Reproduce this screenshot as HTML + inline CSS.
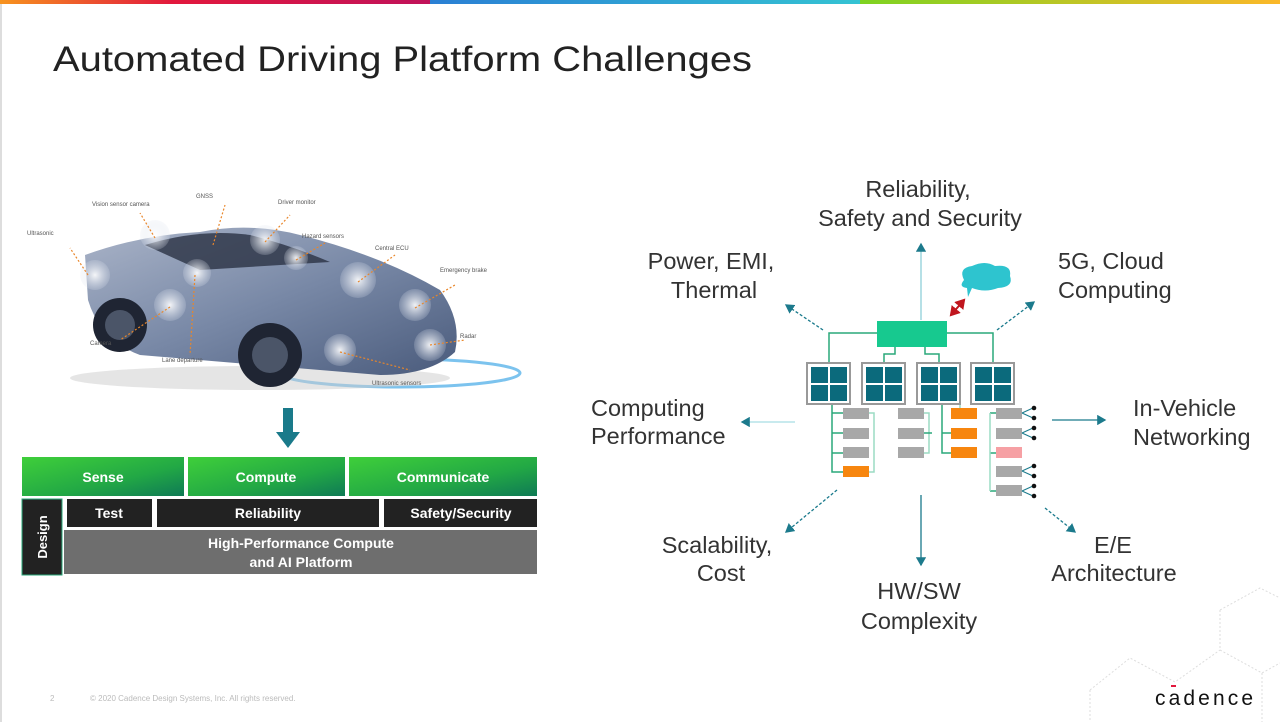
<!DOCTYPE html>
<html><head><meta charset="utf-8"><style>
html,body{margin:0;padding:0;background:#fff;}
svg{display:block;font-family:"Liberation Sans",Arial,sans-serif;}
</style></head><body>
<svg width="1280" height="722" viewBox="0 0 1280 722" xmlns="http://www.w3.org/2000/svg">
<defs>
<linearGradient id="g1" x1="0" x2="1"><stop offset="0" stop-color="#f7931e"/><stop offset="0.4" stop-color="#e2183d"/><stop offset="1" stop-color="#c0125a"/></linearGradient>
<linearGradient id="g2" x1="0" x2="1"><stop offset="0" stop-color="#2a7fd4"/><stop offset="1" stop-color="#34c3d3"/></linearGradient>
<linearGradient id="g3" x1="0" x2="1"><stop offset="0" stop-color="#7ed321"/><stop offset="1" stop-color="#fbb829"/></linearGradient>
<linearGradient id="gg" x1="0" y1="0" x2="1" y2="1"><stop offset="0" stop-color="#3fcf3a"/><stop offset="0.6" stop-color="#22a845"/><stop offset="1" stop-color="#0f7a55"/></linearGradient>
<linearGradient id="car" x1="0" y1="0" x2="1" y2="1"><stop offset="0" stop-color="#aab4c8"/><stop offset="0.5" stop-color="#7888a6"/><stop offset="1" stop-color="#4a5b7c"/></linearGradient>
<radialGradient id="spot"><stop offset="0" stop-color="#fff" stop-opacity="0.9"/><stop offset="1" stop-color="#dde3ee" stop-opacity="0.2"/></radialGradient>
<marker id="ah" markerWidth="8" markerHeight="8" refX="6" refY="4" orient="auto"><path d="M0,0 L7,4 L0,8z" fill="#1c7a8c"/></marker>
<marker id="ar" markerWidth="6" markerHeight="6" refX="4" refY="3" orient="auto-start-reverse"><path d="M0,0 L5,3 L0,6z" fill="#c0161e"/></marker>
</defs>
<rect x="0" y="0" width="430" height="4" fill="url(#g1)"/>
<rect x="430" y="0" width="430" height="4" fill="url(#g2)"/>
<rect x="860" y="0" width="420" height="4" fill="url(#g3)"/>
<rect x="0" y="4" width="2" height="718" fill="#ddd"/>
<text x="53" y="71" font-size="35" fill="#222" textLength="699" lengthAdjust="spacingAndGlyphs">Automated Driving Platform Challenges</text>

<!-- car -->
<ellipse cx="400" cy="373" rx="120" ry="14" fill="none" stroke="#7cc3ee" stroke-width="3"/>
<ellipse cx="260" cy="378" rx="190" ry="12" fill="#ccc" opacity="0.5"/>
<path d="M85,255 Q140,235 200,232 Q250,222 300,235 Q380,255 440,290 Q462,320 455,352 Q430,375 380,375 L140,355 Q100,340 88,300 Z" fill="url(#car)"/>
<path d="M145,245 Q200,228 250,235 Q290,245 330,262 L200,270 Z" fill="#2b3244" opacity="0.8"/>
<circle cx="120" cy="325" r="27" fill="#1f2533"/><circle cx="120" cy="325" r="15" fill="#4b5568"/>
<circle cx="270" cy="355" r="32" fill="#1f2533"/><circle cx="270" cy="355" r="18" fill="#4b5568"/>
<g fill="url(#spot)"><circle cx="155" cy="235" r="15"/><circle cx="265" cy="240" r="15"/><circle cx="95" cy="275" r="15"/><circle cx="170" cy="305" r="16"/><circle cx="358" cy="280" r="18"/><circle cx="415" cy="305" r="16"/><circle cx="340" cy="350" r="16"/><circle cx="430" cy="345" r="16"/><circle cx="197" cy="273" r="14"/><circle cx="296" cy="258" r="12"/></g>
<g stroke="#e9862a" stroke-width="1.2" stroke-dasharray="2,2" fill="none">
<path d="M155,238 L140,213"/><path d="M213,245 L225,205"/><path d="M265,242 L290,215"/><path d="M296,260 L325,243"/><path d="M358,282 L395,255"/><path d="M415,308 L455,285"/><path d="M430,345 L465,340"/><path d="M340,352 L410,370"/><path d="M170,307 L120,340"/><path d="M195,275 L190,355"/><path d="M88,275 L70,248"/>
</g>
<g font-size="6" fill="#555"><text x="92" y="206">Vision sensor camera</text><text x="196" y="198">GNSS</text><text x="278" y="204">Driver monitor</text><text x="302" y="238">Hazard sensors</text><text x="375" y="250">Central ECU</text><text x="440" y="272">Emergency brake</text><text x="460" y="338">Radar</text><text x="372" y="385">Ultrasonic sensors</text><text x="90" y="345">Camera</text><text x="162" y="362">Lane departure</text><text x="27" y="235">Ultrasonic</text></g>

<!-- arrow down -->
<rect x="283" y="408" width="10" height="25" fill="#1a7a8a"/><path d="M276,432 L300,432 L288,448z" fill="#1a7a8a"/>

<!-- platform block -->
<g font-size="14" font-weight="bold" fill="#fff" text-anchor="middle">
<rect x="22" y="457" width="162" height="39" fill="url(#gg)"/><text x="103" y="482">Sense</text>
<rect x="188" y="457" width="157" height="39" fill="url(#gg)"/><text x="266" y="482">Compute</text>
<rect x="349" y="457" width="188" height="39" fill="url(#gg)"/><text x="443" y="482">Communicate</text>
<rect x="22" y="499" width="40" height="76" fill="#222" stroke="#2aa87a"/>
<text x="0" y="0" transform="translate(47,537) rotate(-90)" font-size="13">Design</text>
<rect x="67" y="499" width="85" height="28" fill="#222"/><text x="109" y="518">Test</text>
<rect x="157" y="499" width="222" height="28" fill="#222"/><text x="268" y="518">Reliability</text>
<rect x="384" y="499" width="153" height="28" fill="#222"/><text x="461" y="518">Safety/Security</text>
<rect x="64" y="530" width="473" height="44" fill="#6e6e6e"/>
<text x="301" y="548">High-Performance Compute</text><text x="301" y="567">and AI Platform</text>
</g>

<!-- right diagram -->
<g stroke="#1a7a8c" stroke-width="1.3" fill="none" marker-end="url(#ah)">
<path d="M921,320 L921,244" stroke="#8fd0d8"/>
<path d="M823,330 L786,305" stroke-dasharray="3,2"/>
<path d="M997,330 L1034,302" stroke-dasharray="3,2"/>
<path d="M795,422 L742,422" stroke="#a8dde3"/>
<path d="M1052,420 L1105,420"/>
<path d="M837,490 L786,532" stroke-dasharray="3,2"/>
<path d="M921,495 L921,565"/>
<path d="M1045,508 L1075,532" stroke-dasharray="3,2"/>
</g>
<path d="M951,315 L964,300" stroke="#c0161e" stroke-width="2" marker-start="url(#ar)" marker-end="url(#ar)"/>
<path d="M964,280 Q958,268 972,266 Q985,260 995,266 Q1012,264 1010,276 Q1014,287 998,288 Q985,293 972,288 L968,297 L967,288 Q958,287 964,280z" fill="#2ec4cf"/>

<g stroke="#2aa87a" stroke-width="1.5" fill="none">
<path d="M877,333 L829,333 L829,364"/><path d="M947,333 L993,333 L993,364"/>
<path d="M895,347 L895,354 L884,354 L884,364"/><path d="M925,347 L925,354 L939,354 L939,364"/>
<path d="M832,404 L832,472 L843,472"/><path d="M832,413 L843,413 M832,433 L843,433 M832,453 L843,453"/>
<path d="M869,413 L874,413 L874,472 L869,472" stroke="#9bdcc4"/>
<path d="M924,413 L929,413 L929,453 L924,453" stroke="#9bdcc4"/><path d="M924,433 L932,433"/>
<path d="M942,404 L942,453 L951,453 M942,433 L951,433"/><path d="M960,404 L960,408" stroke="#9bdcc4"/>
<path d="M990,413 L996,413 M990,453 L996,453 M990,491 L996,491"/><path d="M990,413 L990,491" stroke="#9bdcc4"/>
</g>
<rect x="877" y="321" width="70" height="26" fill="#17c98f"/>
<g>
<rect x="807" y="363" width="43" height="41" fill="#fff" stroke="#999" stroke-width="2"/>
<rect x="862" y="363" width="43" height="41" fill="#fff" stroke="#999" stroke-width="2"/>
<rect x="917" y="363" width="43" height="41" fill="#fff" stroke="#999" stroke-width="2"/>
<rect x="971" y="363" width="43" height="41" fill="#fff" stroke="#999" stroke-width="2"/>
<g fill="#0b6a7c">
<rect x="811" y="367" width="17" height="16"/><rect x="830" y="367" width="17" height="16"/><rect x="811" y="385" width="17" height="16"/><rect x="830" y="385" width="17" height="16"/>
<rect x="866" y="367" width="17" height="16"/><rect x="885" y="367" width="17" height="16"/><rect x="866" y="385" width="17" height="16"/><rect x="885" y="385" width="17" height="16"/>
<rect x="921" y="367" width="17" height="16"/><rect x="940" y="367" width="17" height="16"/><rect x="921" y="385" width="17" height="16"/><rect x="940" y="385" width="17" height="16"/>
<rect x="975" y="367" width="17" height="16"/><rect x="994" y="367" width="17" height="16"/><rect x="975" y="385" width="17" height="16"/><rect x="994" y="385" width="17" height="16"/>
</g>
</g>
<g fill="#a8a8a8">
<rect x="843" y="408" width="26" height="11"/><rect x="843" y="428" width="26" height="11"/><rect x="843" y="447" width="26" height="11"/>
<rect x="898" y="408" width="26" height="11"/><rect x="898" y="428" width="26" height="11"/><rect x="898" y="447" width="26" height="11"/>
<rect x="996" y="408" width="26" height="11"/><rect x="996" y="428" width="26" height="11"/><rect x="996" y="466" width="26" height="11"/><rect x="996" y="485" width="26" height="11"/>
</g>
<g fill="#f7860f"><rect x="843" y="466" width="26" height="11"/><rect x="951" y="408" width="26" height="11"/><rect x="951" y="428" width="26" height="11"/><rect x="951" y="447" width="26" height="11"/></g>
<rect x="996" y="447" width="26" height="11" fill="#f6a0a4"/>
<g stroke="#1a7a8c" stroke-width="1"><path d="M1022,413 L1033,408 M1022,413 L1033,418 M1022,433 L1033,428 M1022,433 L1033,438 M1022,471 L1033,466 M1022,471 L1033,476 M1022,491 L1033,486 M1022,491 L1033,496"/></g>
<g fill="#111"><circle cx="1034" cy="408" r="2.3"/><circle cx="1034" cy="418" r="2.3"/><circle cx="1034" cy="428" r="2.3"/><circle cx="1034" cy="438" r="2.3"/><circle cx="1034" cy="466" r="2.3"/><circle cx="1034" cy="476" r="2.3"/><circle cx="1034" cy="486" r="2.3"/><circle cx="1034" cy="496" r="2.3"/></g>

<g font-size="23.5" fill="#333">
<g text-anchor="middle">
<text x="918" y="197">Reliability,</text><text x="920" y="226">Safety and Security</text>
<text x="711" y="269">Power, EMI,</text><text x="714" y="298">Thermal</text>
<text x="717" y="553">Scalability,</text><text x="721" y="581">Cost</text>
<text x="1113" y="553">E/E</text><text x="1114" y="581">Architecture</text>
<text x="919" y="599">HW/SW</text><text x="919" y="629">Complexity</text>
</g>
<text x="1058" y="269">5G, Cloud</text><text x="1058" y="298">Computing</text>
<text x="591" y="416">Computing</text><text x="591" y="444">Performance</text>
<text x="1133" y="416">In-Vehicle</text><text x="1133" y="445">Networking</text>
</g>

<!-- background hex lines -->
<g stroke="#ddd" stroke-width="1" stroke-dasharray="2,2" fill="none">
<path d="M1220,610 L1260,588 L1280,598 M1220,610 L1220,650 L1262,673 L1280,663 M1262,673 L1262,722 M1090,690 L1130,658 L1175,682 L1220,650 M1090,690 L1090,722"/>
</g>
<text x="50" y="701" font-size="8" fill="#bbb">2</text>
<text x="90" y="701" font-size="8" fill="#bbb">© 2020 Cadence Design Systems, Inc. All rights reserved.</text>
<rect x="1171" y="685" width="5" height="2" fill="#e2183d"/>
<text x="1155" y="705" font-size="21" fill="#111" textLength="98" lengthAdjust="spacing">cadence</text>
</svg>
</body></html>
